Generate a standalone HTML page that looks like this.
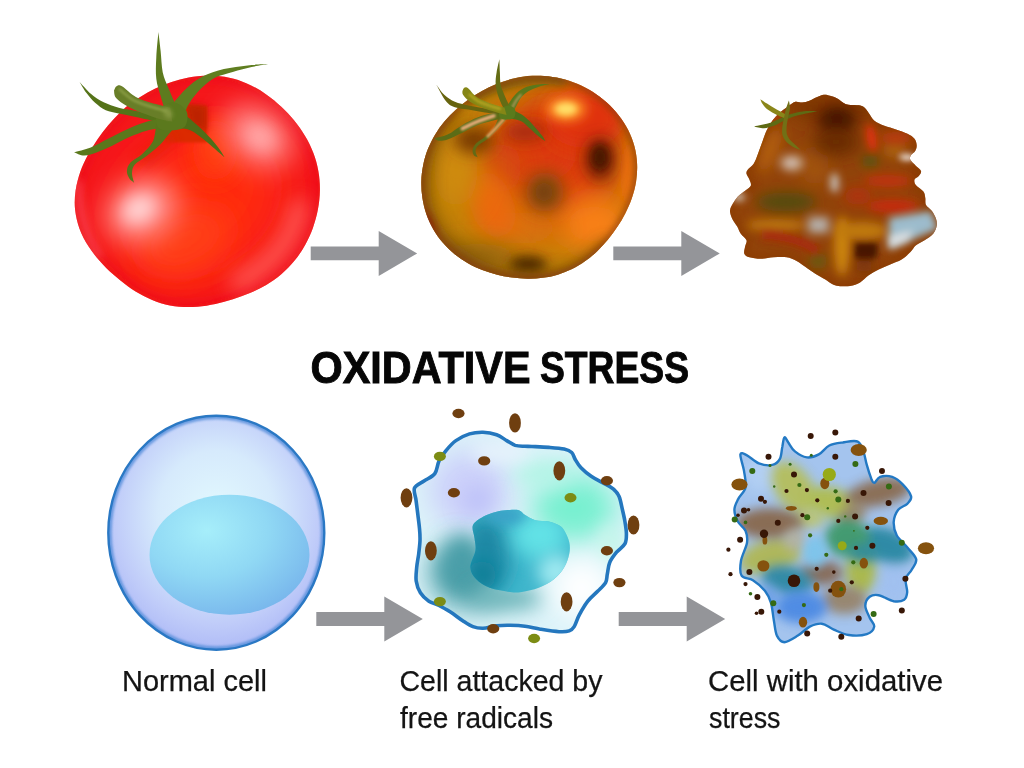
<!DOCTYPE html>
<html>
<head>
<meta charset="utf-8">
<title>Oxidative Stress</title>
<style>
html,body{margin:0;padding:0;background:#fff;}
body{width:1024px;height:768px;overflow:hidden;position:relative;font-family:"Liberation Sans",sans-serif;}
svg{position:absolute;left:0;top:0;display:block;}
text{font-family:"Liberation Sans",sans-serif;}
#labels text{fill:#141414;}
</style>
</head>
<body>
<svg width="1024" height="768" viewBox="0 0 1024 768">
<defs>
  <filter id="b1" filterUnits="userSpaceOnUse" x="0" y="0" width="1024" height="768"><feGaussianBlur stdDeviation="1"/></filter>
  <filter id="b2" filterUnits="userSpaceOnUse" x="0" y="0" width="1024" height="768"><feGaussianBlur stdDeviation="2"/></filter>
  <filter id="b3" filterUnits="userSpaceOnUse" x="0" y="0" width="1024" height="768"><feGaussianBlur stdDeviation="3"/></filter>
  <filter id="b4" filterUnits="userSpaceOnUse" x="0" y="0" width="1024" height="768"><feGaussianBlur stdDeviation="4.5"/></filter>
  <filter id="b6" filterUnits="userSpaceOnUse" x="0" y="0" width="1024" height="768"><feGaussianBlur stdDeviation="6"/></filter>
  <filter id="b8" filterUnits="userSpaceOnUse" x="0" y="0" width="1024" height="768"><feGaussianBlur stdDeviation="8"/></filter>
  <filter id="b10" filterUnits="userSpaceOnUse" x="0" y="0" width="1024" height="768"><feGaussianBlur stdDeviation="10"/></filter>
  <filter id="b14" filterUnits="userSpaceOnUse" x="0" y="0" width="1024" height="768"><feGaussianBlur stdDeviation="14"/></filter>
  <filter id="b20" filterUnits="userSpaceOnUse" x="0" y="0" width="1024" height="768"><feGaussianBlur stdDeviation="20"/></filter>
  <path id="t1path" d="M75.6,190.4 C76.5,184.1 78.3,177.8 80.3,171.8 C82.4,165.9 85.2,160.2 88.0,154.8 C90.9,149.4 94.1,144.3 97.4,139.4 C100.8,134.5 104.3,129.8 108.0,125.4 C111.8,120.9 115.7,116.7 119.8,112.7 C124.0,108.8 128.4,105.0 133.0,101.6 C137.7,98.3 142.6,95.2 147.6,92.4 C152.6,89.6 157.9,87.2 163.3,85.0 C168.7,82.9 174.3,81.0 180.0,79.5 C185.7,78.0 191.6,76.8 197.5,76.2 C203.5,75.6 209.6,75.3 215.7,75.8 C221.7,76.2 227.9,77.2 233.8,78.8 C239.7,80.4 245.5,82.7 251.1,85.4 C256.6,88.0 261.9,91.3 266.9,94.9 C272.0,98.4 276.7,102.4 281.3,106.7 C285.8,110.9 290.1,115.5 294.0,120.3 C298.0,125.1 301.7,130.3 304.9,135.7 C308.2,141.1 311.1,146.9 313.3,152.8 C315.6,158.7 317.3,165.0 318.4,171.3 C319.5,177.5 320.0,184.0 319.9,190.4 C319.8,196.8 319.1,203.2 317.9,209.5 C316.7,215.7 315.0,221.9 312.9,227.9 C310.7,233.8 308.1,239.7 305.0,245.2 C302.0,250.7 298.4,256.0 294.4,260.8 C290.5,265.6 286.0,270.2 281.3,274.2 C276.6,278.2 271.4,281.7 266.2,284.9 C260.9,288.0 255.4,290.7 249.9,293.1 C244.3,295.5 238.6,297.5 232.9,299.3 C227.2,301.1 221.4,302.7 215.5,304.0 C209.6,305.2 203.6,306.3 197.5,306.7 C191.5,307.2 185.2,307.3 179.1,306.7 C173.0,306.1 166.8,304.9 160.9,303.2 C155.0,301.4 149.2,298.9 143.7,296.1 C138.2,293.3 132.9,289.9 127.8,286.3 C122.8,282.7 118.0,278.8 113.3,274.6 C108.7,270.5 104.1,266.1 100.0,261.3 C95.8,256.5 91.7,251.5 88.3,246.1 C84.9,240.7 81.7,234.8 79.5,228.8 C77.3,222.7 75.8,216.2 75.1,209.8 C74.4,203.4 74.7,196.7 75.6,190.4 Z"/>
  <clipPath id="t1clip"><use href="#t1path"/></clipPath>
  <path id="t2path" d="M421.3,181.4 C421.4,175.9 422.1,170.3 423.2,164.9 C424.3,159.5 425.9,154.1 427.9,149.1 C429.9,144.0 432.4,139.0 435.2,134.4 C438.0,129.8 441.2,125.4 444.6,121.3 C448.1,117.1 451.9,113.3 455.8,109.7 C459.7,106.1 463.8,102.8 468.1,99.8 C472.4,96.7 476.9,93.8 481.5,91.3 C486.1,88.7 490.9,86.3 495.9,84.3 C500.8,82.2 506.0,80.4 511.3,79.1 C516.5,77.7 522.0,76.7 527.5,76.1 C532.9,75.6 538.6,75.5 544.2,75.9 C549.8,76.2 555.4,77.1 560.9,78.4 C566.4,79.7 571.9,81.6 577.2,83.8 C582.5,86.0 587.7,88.7 592.6,91.8 C597.4,94.9 602.2,98.4 606.5,102.3 C610.9,106.2 615.0,110.5 618.6,115.2 C622.3,119.8 625.6,124.8 628.2,130.1 C630.8,135.3 633.0,141.0 634.5,146.6 C636.0,152.3 636.9,158.2 637.1,164.0 C637.4,169.8 637.0,175.8 636.1,181.4 C635.2,187.1 633.7,192.7 631.9,198.0 C630.1,203.3 627.8,208.4 625.4,213.2 C622.9,218.1 620.1,222.7 617.2,227.1 C614.3,231.6 611.1,235.8 607.8,239.8 C604.5,243.8 601.0,247.6 597.2,251.2 C593.5,254.7 589.5,258.1 585.3,261.1 C581.2,264.1 576.7,266.8 572.1,269.1 C567.5,271.3 562.7,273.2 557.8,274.7 C552.9,276.2 547.8,277.2 542.7,277.8 C537.7,278.5 532.5,278.8 527.5,278.7 C522.4,278.7 517.3,278.3 512.2,277.6 C507.2,276.9 502.1,275.9 497.2,274.7 C492.2,273.4 487.2,271.9 482.3,270.0 C477.5,268.1 472.6,265.9 468.0,263.2 C463.4,260.6 458.9,257.6 454.7,254.2 C450.5,250.8 446.5,247.0 442.9,242.8 C439.4,238.7 436.1,234.1 433.4,229.4 C430.6,224.6 428.3,219.5 426.4,214.2 C424.6,209.0 423.2,203.5 422.4,198.1 C421.5,192.6 421.2,186.9 421.3,181.4 Z"/>
  <clipPath id="t2clip"><use href="#t2path"/></clipPath>
  <path id="t3path" d="M830.0,95.8 C832.2,96.4 834.6,97.2 837.2,98.6 C839.8,100.0 842.9,103.2 845.8,104.3 C848.7,105.4 851.5,104.7 854.4,105.1 C857.3,105.5 860.6,105.2 863.0,106.5 C865.4,107.8 866.8,110.5 868.7,112.9 C870.6,115.3 871.8,118.7 874.4,120.8 C877.0,122.9 880.8,124.4 884.4,125.8 C888.0,127.2 892.1,128.1 895.9,129.4 C899.7,130.7 904.3,132.1 907.4,133.7 C910.5,135.2 913.0,136.8 914.5,138.7 C916.0,140.6 916.6,143.2 916.7,145.2 C916.8,147.2 916.2,149.2 915.2,150.9 C914.2,152.6 911.7,153.8 910.9,155.2 C910.1,156.6 909.4,157.7 910.2,159.5 C911.1,161.3 914.2,164.0 916.0,165.9 C917.8,167.8 920.5,169.3 921.0,171.0 C921.5,172.7 919.9,174.6 918.8,176.0 C917.7,177.4 915.0,178.0 914.5,179.6 C914.0,181.2 914.5,183.3 916.0,185.3 C917.5,187.3 921.9,189.4 923.4,191.5 C924.9,193.6 924.9,195.6 925.3,197.9 C925.7,200.2 924.9,202.9 926.0,205.1 C927.1,207.2 930.0,208.5 931.7,210.8 C933.4,213.1 935.2,216.2 936.0,218.7 C936.8,221.2 937.2,223.3 936.7,225.8 C936.2,228.3 935.2,231.3 933.2,233.7 C931.2,236.1 927.5,238.3 924.6,240.2 C921.7,242.1 918.4,243.2 916.0,245.2 C913.6,247.2 912.6,249.9 910.2,252.3 C907.8,254.7 904.9,257.5 901.6,259.5 C898.3,261.5 894.0,262.8 890.2,264.5 C886.4,266.2 882.3,267.7 878.7,269.5 C875.1,271.3 871.8,273.2 868.7,275.3 C865.6,277.4 863.2,280.6 860.1,282.4 C857.0,284.2 853.7,285.4 850.1,286.0 C846.5,286.6 841.6,286.3 838.6,286.0 C835.6,285.7 834.2,285.1 832.0,284.0 C829.8,282.9 828.1,281.3 825.3,279.6 C822.5,277.9 818.6,276.0 815.3,273.8 C811.9,271.6 808.3,268.9 805.2,266.7 C802.1,264.5 799.7,262.5 796.6,260.9 C793.5,259.3 790.4,257.9 786.6,257.3 C782.8,256.7 778.0,257.1 773.7,257.3 C769.4,257.6 764.8,258.8 760.8,258.8 C756.8,258.8 752.1,258.1 749.4,257.3 C746.6,256.5 745.0,255.6 744.3,253.8 C743.6,252.0 744.7,248.9 745.1,246.6 C745.5,244.3 747.2,242.3 746.5,240.2 C745.8,238.0 742.3,236.0 740.8,233.7 C739.2,231.4 738.6,229.0 737.2,226.5 C735.8,224.0 733.4,221.3 732.2,218.7 C731.0,216.1 729.9,213.3 730.0,210.8 C730.1,208.3 731.6,206.0 732.9,203.6 C734.2,201.2 735.9,198.7 737.9,196.5 C739.9,194.3 743.0,192.5 745.1,190.7 C747.2,188.9 750.1,187.7 750.8,185.8 C751.5,184.0 750.1,181.6 749.4,179.6 C748.7,177.6 746.8,175.5 746.5,173.8 C746.2,172.1 746.7,171.2 747.9,169.5 C749.1,167.8 752.0,166.4 753.7,163.8 C755.4,161.2 756.6,157.4 758.0,153.8 C759.4,150.2 760.8,146.1 762.2,142.3 C763.6,138.5 764.8,134.4 766.5,130.8 C768.2,127.2 770.1,123.8 772.3,120.8 C774.4,117.8 776.8,115.3 779.4,112.9 C782.0,110.5 785.4,108.3 788.0,106.5 C790.6,104.7 792.8,102.5 795.2,101.8 C797.6,101.1 800.0,102.8 802.4,102.6 C804.8,102.4 807.1,101.7 809.5,100.8 C811.9,99.9 814.3,98.2 816.7,97.2 C819.1,96.2 821.7,94.9 823.9,94.7 C826.1,94.5 827.8,95.2 830.0,95.8 Z"/>
  <clipPath id="t3clip"><use href="#t3path"/></clipPath>
  <path id="c2path" d="M483.0,432.2 C487.5,432.3 492.7,433.3 496.6,434.7 C500.6,436.1 503.6,438.8 506.7,440.6 C509.8,442.4 512.2,444.4 515.2,445.4 C518.2,446.3 522.2,446.1 525.0,446.3 C527.8,446.5 527.9,446.3 531.9,446.5 C535.9,446.7 543.5,447.0 548.9,447.4 C554.3,447.8 560.3,448.2 564.1,449.1 C567.9,450.0 569.9,450.8 571.7,452.5 C573.5,454.2 573.6,456.7 575.1,459.2 C576.6,461.7 578.3,464.9 581.0,467.7 C583.7,470.5 587.5,473.7 591.2,476.2 C594.9,478.7 599.3,480.8 603.0,482.9 C606.7,485.0 610.5,486.6 613.2,488.9 C615.9,491.2 617.6,493.0 619.1,496.5 C620.6,500.0 621.5,505.8 622.5,510.0 C623.5,514.2 624.4,518.0 625.0,521.9 C625.6,525.8 626.4,529.9 626.4,533.5 C626.4,537.1 626.6,540.6 625.0,543.7 C623.4,546.8 619.1,549.1 616.6,552.2 C614.1,555.3 611.3,558.6 609.8,562.3 C608.2,566.0 608.0,570.8 607.3,574.2 C606.6,577.6 607.2,579.8 605.6,582.6 C604.0,585.4 600.9,588.0 597.9,591.1 C594.9,594.2 590.9,597.2 587.8,601.2 C584.7,605.2 581.6,610.6 579.3,614.8 C577.0,619.0 575.9,623.9 574.2,626.6 C572.5,629.3 571.7,630.0 569.2,630.9 C566.7,631.8 563.8,632.0 559.0,631.7 C554.2,631.4 546.1,630.1 540.4,629.2 C534.7,628.3 530.0,626.9 525.0,626.3 C520.0,625.6 514.8,625.4 510.1,625.3 C505.4,625.2 501.1,625.3 496.6,625.8 C492.1,626.3 486.9,628.2 483.0,628.3 C479.1,628.4 476.3,627.9 472.9,626.6 C469.5,625.3 466.4,623.1 462.7,620.7 C459.0,618.3 454.8,614.8 450.9,612.3 C446.9,609.8 442.7,607.4 439.0,605.5 C435.3,603.6 432.0,603.3 428.9,601.2 C425.8,599.1 422.5,596.2 420.4,592.8 C418.3,589.4 416.8,585.1 416.2,580.9 C415.6,576.7 416.3,571.9 416.7,567.4 C417.1,562.9 418.1,558.4 418.7,553.9 C419.2,549.4 419.9,544.5 420.0,540.3 C420.1,536.1 419.9,532.7 419.5,528.5 C419.1,524.3 418.5,519.8 417.9,515.0 C417.3,510.2 416.6,504.5 416.0,500.0 C415.4,495.5 413.2,491.2 414.5,488.0 C415.8,484.8 420.6,483.4 424.0,481.0 C427.4,478.6 432.3,477.0 434.8,473.6 C437.3,470.2 437.2,464.7 439.0,460.9 C440.8,457.1 443.0,454.2 445.8,450.8 C448.6,447.4 451.9,443.4 455.9,440.6 C459.8,437.8 465.0,435.3 469.5,433.9 C474.0,432.5 478.5,432.1 483.0,432.2 Z"/>
  <clipPath id="c2clip"><use href="#c2path"/></clipPath>
  <path id="c2nuc" d="M472.9,525.3 C474.3,521.8 479.1,519.1 483.0,516.8 C486.9,514.5 491.5,512.9 496.6,511.7 C501.7,510.5 509.6,509.9 513.5,509.8 C517.5,509.7 518.3,510.0 520.3,510.9 C522.2,511.8 522.7,513.5 525.2,515.1 C527.7,516.7 531.3,519.1 535.3,520.2 C539.2,521.3 544.9,520.6 548.9,521.5 C552.9,522.4 556.5,523.8 559.0,525.3 C561.5,526.8 562.4,527.4 564.1,530.2 C565.8,533.0 568.4,538.0 569.2,542.0 C570.1,546.0 570.1,549.7 569.2,553.9 C568.4,558.1 566.7,563.2 564.1,567.4 C561.5,571.6 558.1,575.8 553.9,579.2 C549.7,582.6 544.1,585.6 538.7,587.7 C533.4,589.8 526.6,591.2 521.8,591.9 C517.0,592.6 515.4,592.6 510.1,591.9 C504.8,591.2 495.4,589.8 489.8,587.7 C484.2,585.6 479.6,582.6 476.3,579.2 C473.1,575.8 470.5,572.2 470.3,567.4 C470.1,562.6 474.7,555.4 475.4,550.5 C476.1,545.6 474.9,542.2 474.5,538.0 C474.1,533.8 471.5,528.8 472.9,525.3 Z"/>
  <clipPath id="c2nclip"><use href="#c2nuc"/></clipPath>
  <path id="c3path" d="M784.4,437.4 C785.4,436.6 786.5,440.1 788.3,442.5 C790.0,444.8 791.8,449.0 794.9,451.4 C798.0,453.9 802.9,456.9 806.9,457.4 C810.8,457.9 815.1,456.4 818.8,454.4 C822.6,452.4 825.3,447.5 829.3,445.5 C833.3,443.5 838.0,443.1 842.8,442.5 C847.5,441.8 854.3,439.8 857.8,441.6 C861.3,443.3 862.3,449.1 863.8,452.9 C865.3,456.8 865.5,460.7 866.8,464.9 C868.0,469.2 870.0,475.4 871.2,478.4 C872.5,481.4 872.7,483.1 874.2,482.9 C875.7,482.6 877.2,477.9 880.2,476.9 C883.2,475.9 888.5,475.7 892.2,476.9 C896.0,478.2 899.5,481.1 902.7,484.4 C905.8,487.6 910.3,493.1 911.1,496.4 C911.8,499.6 909.3,501.6 907.2,503.9 C905.0,506.1 900.4,506.9 898.2,509.8 C896.0,512.8 894.0,517.6 893.7,521.8 C893.5,526.1 894.5,531.1 896.7,535.3 C898.9,539.5 903.9,543.3 907.2,547.3 C910.4,551.3 915.4,555.5 916.2,559.3 C916.9,563.0 913.4,566.5 911.7,569.7 C909.9,573.0 906.4,575.0 905.7,578.7 C904.9,582.5 907.4,588.7 907.2,592.2 C906.9,595.7 906.4,598.2 904.2,599.7 C901.9,601.2 897.9,601.9 893.7,601.2 C889.5,600.4 882.7,596.0 878.7,595.2 C874.7,594.5 872.0,595.0 869.7,596.7 C867.5,598.4 865.3,602.2 865.3,605.7 C865.3,609.2 868.2,614.2 869.7,617.7 C871.2,621.2 874.7,623.9 874.2,626.6 C873.7,629.4 871.0,632.7 866.8,634.1 C862.5,635.5 854.3,635.8 848.8,635.0 C843.3,634.3 838.3,631.5 833.8,629.6 C829.3,627.7 825.8,624.2 821.8,623.7 C817.8,623.2 813.8,624.7 809.8,626.6 C805.9,628.6 802.1,633.0 797.9,635.6 C793.6,638.2 787.9,642.2 784.4,642.2 C780.9,642.2 778.7,639.2 776.9,635.6 C775.2,632.0 774.9,626.1 773.9,620.7 C772.9,615.2 772.4,607.7 770.9,602.7 C769.4,597.7 767.9,594.5 764.9,590.7 C761.9,587.0 756.8,582.7 752.9,580.2 C749.1,577.7 743.6,579.0 741.6,575.7 C739.6,572.5 740.1,566.3 741.0,560.8 C741.9,555.3 746.2,547.8 747.0,542.8 C747.7,537.8 747.0,534.3 745.5,530.8 C744.0,527.3 739.8,525.3 738.0,521.8 C736.1,518.3 734.4,513.6 734.4,509.8 C734.4,506.1 736.1,503.1 738.0,499.4 C739.8,495.6 744.5,492.1 745.5,487.4 C746.5,482.6 744.8,476.4 744.0,470.9 C743.1,465.4 739.9,457.0 740.4,454.4 C740.9,451.8 743.9,453.8 747.0,455.3 C750.0,456.8 754.7,461.8 758.9,463.4 C763.2,465.0 768.9,465.7 772.4,464.9 C775.9,464.2 778.3,461.9 779.9,458.9 C781.5,455.9 781.5,450.5 782.3,447.0 C783.0,443.4 783.4,438.1 784.4,437.4 Z"/>
  <clipPath id="c3clip"><use href="#c3path"/></clipPath>
  <path id="arrow" d="M0,-6.9 H68 V-22.5 L106.5,0 L68,22.5 V6.9 H0 Z" fill="#949599"/>
  <radialGradient id="c1g" cx="0.5" cy="0.42" r="0.6">
    <stop offset="0" stop-color="#e2f9fe"/>
    <stop offset="0.45" stop-color="#d6eafc"/>
    <stop offset="0.78" stop-color="#c0ccf9"/>
    <stop offset="1" stop-color="#acb8f6"/>
  </radialGradient>
  <radialGradient id="c1n" cx="0.36" cy="0.3" r="0.85">
    <stop offset="0" stop-color="#a6eefa"/>
    <stop offset="0.45" stop-color="#90d8f4"/>
    <stop offset="1" stop-color="#72aeea"/>
  </radialGradient>
  <clipPath id="c1clip"><ellipse cx="216.3" cy="532.7" rx="108" ry="117"/></clipPath>
</defs>
<rect width="1024" height="768" fill="#fff"/>

<!-- ARROWS -->
<use href="#arrow" x="310.7" y="253.4"/>
<use href="#arrow" x="613.3" y="253.4"/>
<use href="#arrow" x="316.3" y="619"/>
<use href="#arrow" x="618.7" y="619"/>

<!-- TOMATO1 -->
<g id="tomato1">
  <g clip-path="url(#t1clip)">
    <rect x="60" y="60" width="280" height="260" fill="#f5171b"/>
    <!-- brighter orange-red core -->
    <ellipse cx="200" cy="205" rx="88" ry="66" fill="#ff2a10" filter="url(#b20)" transform="rotate(-35 200 205)"/>
    <ellipse cx="185" cy="240" rx="48" ry="32" fill="#ff3c12" filter="url(#b14)" transform="rotate(-25 185 240)"/>
    <ellipse cx="215" cy="150" rx="22" ry="30" fill="#ff3a10" filter="url(#b10)"/>
    <!-- darker edge -->
    <use href="#t1path" fill="none" stroke="#e80f1a" stroke-width="8" filter="url(#b6)" opacity="0.7"/>
    <!-- glow band bottom right (inset) -->
    <path d="M300,200 C297,235 276,264 232,286" fill="none" stroke="#ff6a66" stroke-width="18" filter="url(#b10)" opacity="0.8"/>
    <!-- rim light left -->
    <path d="M78,180 C78,208 85,236 100,258" fill="none" stroke="#ff6a74" stroke-width="6" filter="url(#b4)" opacity="0.6"/>
    <!-- highlights -->
    <ellipse cx="258" cy="136" rx="38" ry="28" fill="#ff8282" filter="url(#b14)" transform="rotate(35 258 136)"/>
    <ellipse cx="260" cy="137" rx="16" ry="12" fill="#ffaaaa" filter="url(#b8)" transform="rotate(35 260 137)" opacity="0.9"/>
    <ellipse cx="142" cy="210" rx="38" ry="30" fill="#ff908e" filter="url(#b14)" transform="rotate(-30 142 210)"/>
    <ellipse cx="139" cy="209" rx="17" ry="13" fill="#ffd2d2" filter="url(#b8)" transform="rotate(-30 139 209)"/>
    <!-- calyx shadow -->
    <path d="M178,104 L207,106 L207,142.5 L166,142.5 L158,134 Z" fill="#dc2a06" filter="url(#b1)"/>
    <path d="M186,104 L206.5,106 L206.5,130 L190,126 Z" fill="#b82006" filter="url(#b3)" opacity="0.85"/>
    <path d="M134,158 L168,130 L178,142 L150,168 Z" fill="#e0240c" filter="url(#b4)" opacity="0.45"/>
  </g>
  <g id="calyx1">
    <path d="M79.6,81.9 C81.5,83.9 86.8,90.3 90.8,93.7 C94.8,97.1 99.0,100.0 103.7,102.3 C108.3,104.6 113.3,106.3 118.7,107.7 C124.1,109.1 129.4,109.5 135.9,110.9 C142.3,112.3 153.8,115.4 157.4,116.3 L157.4,121.7 C153.8,120.9 142.3,118.3 135.9,116.9 C129.4,115.6 123.7,114.6 118.7,113.5 C113.7,112.4 109.7,112.1 105.8,110.3 C101.9,108.5 98.3,105.6 95.1,102.8 C91.8,99.9 89.1,96.6 86.5,93.1 C83.9,89.6 80.8,83.8 79.6,81.9 Z" fill="#557319"/>
    <path d="M74.0,152.2 C76.8,151.4 85.1,149.6 90.8,147.4 C96.4,145.2 101.9,141.9 108.0,138.8 C114.0,135.8 120.8,132.0 127.3,129.2 C133.7,126.3 140.5,123.6 146.6,121.7 C152.7,119.7 160.9,118.1 163.8,117.4 L165.9,127.0 C162.7,127.6 152.7,129.0 146.6,130.7 C140.5,132.4 135.2,134.6 129.4,137.1 C123.7,139.6 117.6,143.2 112.3,145.7 C106.9,148.2 101.9,150.5 97.2,152.2 C92.6,153.8 88.2,155.6 84.3,155.6 C80.5,155.6 75.7,152.7 74.0,152.2 Z" fill="#5a781c"/>
    <path d="M178.8,109.8 C182.1,112.5 192.8,121.1 198.2,125.9 C203.5,130.8 207.5,134.9 211.1,138.8 C214.6,142.8 217.4,146.5 219.6,149.6 C221.9,152.6 223.6,155.8 224.4,157.1 L224.4,157.1 C222.5,155.5 217.2,150.8 213.2,147.4 C209.2,144.0 204.6,139.7 200.3,136.7 C196.0,133.6 192.4,130.6 187.4,129.2 C182.4,127.7 173.1,128.3 170.2,128.1 Z" fill="#4f6e18"/>
    <path d="M170.2,106.6 C172.8,103.8 179.9,94.4 185.3,89.4 C190.6,84.4 196.0,79.9 202.5,76.5 C208.9,73.1 216.4,70.9 223.9,69.0 C231.5,67.2 240.2,66.2 247.6,65.4 C254.9,64.6 264.6,64.3 268.0,64.1 L268.0,64.1 C264.6,64.7 254.2,66.4 247.6,68.0 C240.9,69.5 234.0,71.5 228.2,73.3 C222.5,75.1 218.2,75.7 213.2,78.7 C208.2,81.7 202.5,86.9 198.2,91.6 C193.9,96.2 189.8,102.3 187.4,106.6 C185.1,110.9 184.7,115.6 184.2,117.4 Z" fill="#5f7e20"/>
    <path d="M164.9,109.8 C164.2,107.5 162.0,101.1 160.6,95.9 C159.1,90.7 157.0,85.1 156.3,78.7 C155.6,72.3 155.9,65.0 156.3,57.2 C156.6,49.4 158.1,36.1 158.4,31.9 L158.4,31.9 C158.8,35.0 159.9,44.0 160.6,50.8 C161.3,57.5 161.5,66.2 162.7,72.3 C164.0,78.3 166.1,82.3 168.1,87.3 C170.1,92.3 173.5,99.8 174.5,102.3 Z" fill="#5d7b1e"/>
    <path d="M156.3,123.8 C155.7,126.7 155.4,136.0 153.1,141.0 C150.7,146.0 146.1,150.3 142.3,153.9 C138.6,157.5 133.1,159.6 130.5,162.5 C127.9,165.3 127.0,168.4 126.9,171.1 C126.7,173.7 128.2,176.6 129.4,178.6 C130.7,180.5 133.4,182.2 134.2,182.9 L134.2,182.9 C133.8,181.3 131.9,176.2 132.0,173.2 C132.1,170.2 132.4,167.5 134.8,164.6 C137.2,161.7 142.5,159.2 146.6,156.0 C150.7,152.8 155.6,149.2 159.5,145.3 C163.4,141.3 167.0,136.0 170.2,132.4 C173.5,128.8 177.4,125.2 178.8,123.8 Z" fill="#58761b"/>
    <path d="M157.4,112.0 C159.7,107.8 167.6,102.5 172.4,102.3 C177.2,102.1 184.2,107.0 186.4,110.9 C188.5,114.9 187.6,122.7 185.3,125.9 C183.0,129.2 176.9,130.0 172.4,130.2 C167.9,130.5 160.9,130.7 158.4,127.7 C155.9,124.6 155.0,116.2 157.4,112.0 Z" fill="#5b791d"/>
    <path d="M114.0,90.5 C114.4,89.8 115.2,86.9 116.5,86.2 C117.9,85.5 118.7,84.4 121.9,86.2 C125.1,88.0 131.0,94.2 135.9,97.0 C140.7,99.7 145.2,101.0 150.9,102.8 C156.6,104.5 167.0,106.9 170.2,107.7 L172.4,121.7 C170.2,121.2 164.5,120.5 159.5,119.1 C154.5,117.6 147.7,115.2 142.3,113.1 C137.0,110.9 131.7,108.7 127.3,106.2 C122.9,103.7 118.3,100.6 116.1,98.0 C113.9,95.4 114.3,91.8 114.0,90.5 Z" fill="#687e28"/>
    <path d="M119.8,89.4 C122.1,91.2 128.5,97.3 133.7,100.2 C138.9,103.0 145.5,104.8 150.9,106.6 C156.3,108.4 163.4,110.2 165.9,110.9" fill="none" stroke="#93a54c" stroke-width="3" stroke-linecap="round" opacity="0.7" filter="url(#b1)"/>
    <ellipse cx="168" cy="113" rx="4" ry="6" fill="#8c9e46" filter="url(#b2)" transform="rotate(-30 168 113)" opacity="0.8"/>
  </g>
</g>

<!-- TOMATO2 -->
<g id="tomato2">
  <g clip-path="url(#t2clip)">
    <rect x="400" y="60" width="260" height="240" fill="#c08008"/>
    <!-- orange-red centre/right -->
    <ellipse cx="562" cy="156" rx="62" ry="66" fill="#de3e08" filter="url(#b20)"/>
    <ellipse cx="536" cy="150" rx="42" ry="34" fill="#dc3a08" filter="url(#b14)"/>
    <ellipse cx="585" cy="118" rx="40" ry="30" fill="#e0300a" filter="url(#b10)"/>
    <ellipse cx="500" cy="168" rx="22" ry="26" fill="#d44c08" filter="url(#b14)"/>
    <!-- orange lower right -->
    <ellipse cx="594" cy="224" rx="36" ry="28" fill="#fa8014" filter="url(#b14)"/>
    <ellipse cx="520" cy="228" rx="40" ry="16" fill="#e06e0a" filter="url(#b14)"/>
    <ellipse cx="628" cy="175" rx="7" ry="34" fill="#f07010" filter="url(#b6)"/>
    <ellipse cx="492" cy="205" rx="22" ry="34" fill="#ec6808" filter="url(#b10)" transform="rotate(-20 492 205)"/>
    <!-- golden left -->
    <ellipse cx="456" cy="168" rx="22" ry="40" fill="#d08c0a" filter="url(#b14)"/>
    <ellipse cx="478" cy="256" rx="40" ry="12" fill="#94660c" filter="url(#b10)"/>
    <!-- top edge olive -->
    <path d="M466,102 C498,82 530,75 566,81" fill="none" stroke="#7c5a0a" stroke-width="10" filter="url(#b4)"/>
    <!-- dark spots -->
    <ellipse cx="600" cy="159" rx="14" ry="21" fill="#601a04" filter="url(#b8)"/>
    <ellipse cx="600" cy="157" rx="8" ry="12" fill="#481203" filter="url(#b4)"/>
    <ellipse cx="545" cy="192" rx="19" ry="20" fill="#8a4e0a" filter="url(#b8)"/>
    <ellipse cx="544" cy="192" rx="9" ry="10" fill="#764008" filter="url(#b6)"/>
    <ellipse cx="528" cy="265" rx="19" ry="9" fill="#482606" filter="url(#b6)"/>
    <ellipse cx="474" cy="140" rx="20" ry="13" fill="#763806" filter="url(#b8)"/>
    <ellipse cx="525" cy="132" rx="22" ry="9" fill="#a02a08" filter="url(#b8)"/>
    <!-- dark edges -->
    <path d="M450,104 C422,135 412,180 424,216 C438,257 490,288 545,284 C575,281 600,264 615,247" fill="none" stroke="#7a5008" stroke-width="24" filter="url(#b8)" opacity="0.85"/>
    <use href="#t2path" fill="none" stroke="#86380a" stroke-width="6" filter="url(#b3)" opacity="0.7"/>
    <ellipse cx="427" cy="224" rx="5" ry="12" fill="#8a1c08" filter="url(#b4)" transform="rotate(-25 427 224)"/>
    <!-- highlight -->
    <ellipse cx="566" cy="109" rx="20" ry="12" fill="#ff9428" filter="url(#b6)"/>
    <ellipse cx="566" cy="109" rx="11" ry="6.5" fill="#ffe068" filter="url(#b3)"/>
  </g>
  <g id="calyx2">
    <path d="M436.2,84.4 C437.6,86.2 441.3,92.0 444.5,94.9 C447.6,97.8 451.0,99.9 454.9,101.7 C458.9,103.4 463.4,104.3 468.4,105.4 C473.4,106.5 479.4,107.4 484.9,108.4 C490.4,109.4 498.6,110.9 501.4,111.4 L501.4,115.1 C498.6,114.7 490.4,113.5 484.9,112.6 C479.4,111.7 473.4,110.5 468.4,109.6 C463.4,108.7 458.7,108.6 454.9,107.2 C451.2,105.8 449.1,105.0 446.0,101.2 C442.8,97.4 437.9,87.2 436.2,84.4 Z" fill="#67640f"/>
    <path d="M434.3,138.3 C436.5,137.7 442.8,136.8 447.5,134.6 C452.2,132.4 457.4,127.7 462.4,124.9 C467.4,122.0 472.4,119.3 477.4,117.4 C482.4,115.5 487.6,114.3 492.4,113.6 C497.1,113.0 503.6,113.6 505.9,113.6 L506.6,118.1 C504.2,118.6 497.2,119.5 492.4,120.7 C487.5,121.8 482.4,123.2 477.4,125.2 C472.4,127.2 467.4,130.3 462.4,132.7 C457.4,135.0 451.5,138.0 447.5,139.4 C443.5,140.7 440.7,140.9 438.5,140.7 C436.3,140.6 435.0,138.7 434.3,138.3 Z" fill="#5c6c16"/>
    <path d="M462.4,128.6 C464.9,127.4 472.2,123.7 477.4,121.6 C482.6,119.5 491.1,116.8 493.9,115.9" fill="none" stroke="#e6ac7c" stroke-width="3.6" stroke-linecap="round" filter="url(#b1)"/>
    <path d="M510.3,109.1 C512.6,110.3 519.8,113.0 523.8,115.9 C527.8,118.8 531.3,123.1 534.3,126.4 C537.3,129.6 539.9,132.9 541.8,135.3 C543.7,137.8 544.9,140.3 545.5,141.3 L545.5,141.3 C544.4,140.5 541.4,138.7 538.8,136.5 C536.2,134.4 532.8,131.1 529.8,128.5 C526.8,125.9 524.6,122.7 520.8,121.0 C517.1,119.3 509.6,118.6 507.4,118.1 Z" fill="#4f7019"/>
    <path d="M507.4,105.4 C508.8,103.4 513.1,96.5 516.3,93.4 C519.6,90.3 523.1,88.2 526.8,86.7 C530.6,85.2 535.1,84.9 538.8,84.4 C542.5,84.0 547.5,84.2 549.3,84.1 L549.3,84.1 C547.5,84.6 542.3,85.5 538.8,86.7 C535.3,87.9 531.3,89.3 528.3,91.2 C525.3,93.0 523.1,94.9 520.8,97.9 C518.6,100.9 515.8,107.3 514.8,109.1 Z" fill="#5a781c"/>
    <path d="M512.6,106.9 C513.2,105.8 515.0,102.2 516.3,100.2 C517.7,98.2 520.1,95.8 520.8,94.9" fill="none" stroke="#c8a070" stroke-width="2" stroke-linecap="round" filter="url(#b1)" opacity="0.8"/>
    <path d="M503.6,108.4 C502.7,106.4 499.7,100.4 498.4,96.4 C497.0,92.4 496.0,88.4 495.7,84.4 C495.4,80.4 495.9,76.7 496.6,72.5 C497.2,68.3 498.9,61.5 499.4,59.3 L499.4,59.3 C499.5,61.5 499.7,68.3 499.9,72.5 C500.1,76.7 499.9,80.7 500.6,84.4 C501.4,88.2 502.9,91.3 504.4,94.9 C505.9,98.5 508.7,104.3 509.6,106.1 Z" fill="#646c14"/>
    <path d="M499.1,116.6 C498.2,118.5 496.2,124.5 493.9,127.9 C491.5,131.2 487.9,134.2 484.9,136.8 C481.9,139.5 478.0,141.3 475.9,143.6 C473.9,145.8 472.9,148.3 472.6,150.3 C472.3,152.3 473.3,154.4 474.1,155.6 C475.0,156.7 477.1,156.9 477.7,157.2 L477.7,157.2 C477.4,156.3 475.6,153.7 475.6,151.8 C475.6,150.0 475.7,148.3 477.7,146.1 C479.8,143.9 484.4,141.6 487.9,138.6 C491.3,135.6 495.1,131.6 498.4,128.2 C501.6,124.7 505.9,119.8 507.4,118.1 Z" fill="#626a16"/>
    <path d="M487.9,136.1 C489.3,134.7 493.5,130.6 496.1,127.9 C498.7,125.1 502.4,121.0 503.6,119.6" fill="none" stroke="#e8a062" stroke-width="3" stroke-linecap="round" filter="url(#b1)"/>
    <path d="M499.9,110.6 C501.1,108.6 504.9,105.7 507.4,105.4 C509.8,105.2 513.7,107.1 514.8,109.1 C516.0,111.1 515.5,115.6 514.1,117.4 C512.7,119.1 509.0,119.6 506.6,119.6 C504.2,119.6 501.0,118.9 499.9,117.4 C498.7,115.9 498.6,112.6 499.9,110.6 Z" fill="#5a7a1c"/>
    <path d="M462.4,91.2 C462.7,90.6 463.3,88.2 464.2,87.7 C465.2,87.2 466.2,86.7 468.1,88.2 C470.1,89.6 472.6,94.0 475.9,96.4 C479.2,98.8 483.1,100.5 487.9,102.4 C492.6,104.3 501.6,106.8 504.4,107.6 L506.6,115.1 C504.7,114.6 499.5,113.4 495.4,112.1 C491.3,110.9 486.1,109.4 481.9,107.6 C477.7,105.9 473.0,103.8 469.9,101.7 C466.8,99.5 464.4,96.7 463.2,94.9 C461.9,93.2 462.6,91.8 462.4,91.2 Z" fill="#858616"/>
    <path d="M469.9,94.9 C471.4,96.0 475.4,99.8 478.9,101.7 C482.4,103.5 487.4,105.0 490.9,106.1 C494.4,107.3 498.4,108.3 499.9,108.7" fill="none" stroke="#b4a420" stroke-width="3" stroke-linecap="round" filter="url(#b1)" opacity="0.9"/>
  </g>
</g>

<!-- TOMATO3 -->
<g id="tomato3">
  <g clip-path="url(#t3clip)">
    <rect x="720" y="85" width="230" height="210" fill="#92440a"/>
    <!-- darker edge -->
    <use href="#t3path" fill="none" stroke="#8a3a06" stroke-width="9" filter="url(#b4)" opacity="0.7"/>
    <g filter="url(#b2)">
    <!-- top dark region -->
    <ellipse cx="832" cy="110" rx="42" ry="14" fill="#7c3406" filter="url(#b8)"/>
    <!-- golden areas -->
    <ellipse cx="842" cy="246" rx="8" ry="30" fill="#cc860c" filter="url(#b4)"/>
    <ellipse cx="862" cy="231" rx="26" ry="9" fill="#c07a0a" filter="url(#b4)"/>
    <ellipse cx="776" cy="225" rx="30" ry="6" fill="#be780a" filter="url(#b4)"/>
    <ellipse cx="770" cy="150" rx="8" ry="24" fill="#b4600a" filter="url(#b6)" transform="rotate(22 770 150)"/>
    <ellipse cx="815" cy="165" rx="14" ry="20" fill="#a2540a" filter="url(#b8)"/>
    <ellipse cx="895" cy="150" rx="12" ry="8" fill="#a8600a" filter="url(#b4)"/>
    <!-- olive areas -->
    <ellipse cx="786" cy="202" rx="30" ry="10" fill="#544c08" filter="url(#b6)"/>
    <ellipse cx="870" cy="161" rx="9" ry="6" fill="#56560e" filter="url(#b4)"/>
    <ellipse cx="818" cy="261" rx="9" ry="8" fill="#6a5a10" filter="url(#b4)"/>
    <!-- dark brown areas -->
    <ellipse cx="837" cy="121" rx="18" ry="14" fill="#461805" filter="url(#b6)"/>
    <ellipse cx="836" cy="142" rx="24" ry="14" fill="#682a06" filter="url(#b8)"/>
    <path d="M854.5,242.5 H877.5 V256 C872,262 860,262 854.5,258 Z" fill="#461604" filter="url(#b2)"/>
    <ellipse cx="864" cy="266" rx="10" ry="6" fill="#7a3608" filter="url(#b4)"/>
    <!-- red areas -->
    <ellipse cx="871.5" cy="138" rx="4.5" ry="14" fill="#e6300a" filter="url(#b3)" transform="rotate(-10 871.5 138)"/>
    <ellipse cx="896" cy="138" rx="16" ry="6" fill="#bc3a0a" filter="url(#b4)"/>
    <ellipse cx="772" cy="112" rx="7" ry="8" fill="#c8440a" filter="url(#b4)"/>
    <ellipse cx="888" cy="181" rx="24" ry="6" fill="#c2300a" filter="url(#b4)"/>
    <ellipse cx="893" cy="206" rx="26" ry="7" fill="#c62a08" filter="url(#b4)"/>
    <ellipse cx="858" cy="196" rx="14" ry="9" fill="#b03008" filter="url(#b6)"/>
    <path d="M762,235 C775,235 790,238 805,244 C810,246 814,249 818,252" fill="none" stroke="#ac2808" stroke-width="8" filter="url(#b3)"/>
    <!-- white / bluish patches -->
    <ellipse cx="791.5" cy="163" rx="11" ry="7.5" fill="#e0dcda" filter="url(#b4)" opacity="0.8"/>
    <ellipse cx="834.6" cy="183" rx="4.5" ry="10" fill="#d0d8de" filter="url(#b3)" opacity="0.8"/>
    <path d="M808,217 H829 V233 H808 Z" fill="#bcc4ca" filter="url(#b4)" opacity="0.85"/>
    <path d="M889,218 L931,211 L938,229 L889,249 Z" fill="#9cbccc" filter="url(#b3)"/>
    <path d="M889,236 L913,230 L908,241 L889,249 Z" fill="#e2e2e2" filter="url(#b3)" opacity="0.9"/>
    <ellipse cx="907.5" cy="157.4" rx="8" ry="3" fill="#f2eeee" filter="url(#b2)"/>
    <ellipse cx="739" cy="197" rx="6" ry="4" fill="#d8d2cc" filter="url(#b3)"/>
    </g>
  </g>
  <!-- calyx -->
  <g id="calyx3">
    <path d="M754.2,126.4 C755.5,126.1 759.0,125.5 762.0,124.8 C765.0,124.1 768.7,123.4 772.0,122.2 C775.3,121.0 778.7,119.0 782.0,117.6 C785.3,116.2 788.3,114.9 792.0,113.8 C795.7,112.7 799.7,111.6 804.0,111.2 C808.3,110.8 815.3,111.2 817.6,111.2 L817.6,111.2 C815.3,111.7 808.1,113.0 804.0,113.9 C799.9,114.8 796.3,115.7 793.0,116.8 C789.7,117.9 787.2,119.3 784.0,120.8 C780.8,122.3 777.3,124.6 774.0,125.8 C770.7,127.0 767.3,128.1 764.0,128.2 C760.7,128.3 755.8,126.7 754.2,126.4 Z" fill="#5e6a14"/>
    <path d="M760.3,99.2 C761.4,99.9 764.5,102.0 767.0,103.6 C769.5,105.2 772.0,106.9 775.0,108.6 C778.0,110.3 783.3,113.1 785.0,114.0 L786.5,118.8 C784.9,118.2 780.1,116.5 777.0,115.0 C773.9,113.5 770.4,111.6 768.0,109.8 C765.6,108.0 763.9,105.8 762.6,104.0 C761.3,102.2 760.7,100.0 760.3,99.2 Z" fill="#8a861a"/>
    <path d="M788.9,100.4 C788.5,101.7 787.0,105.2 786.2,108.0 C785.4,110.8 784.9,113.7 784.2,117.0 C783.5,120.3 782.4,124.8 782.2,128.0 C782.0,131.2 781.9,133.5 782.8,136.0 C783.6,138.5 785.4,140.9 787.3,142.8 C789.2,144.7 791.8,146.2 794.0,147.4 C796.2,148.6 799.2,149.4 800.3,149.8 L800.3,149.8 C799.4,149.0 796.9,146.4 795.2,144.8 C793.6,143.2 791.8,141.9 790.4,140.2 C789.0,138.5 787.6,136.7 787.0,134.5 C786.4,132.3 786.4,129.9 786.6,127.0 C786.8,124.1 787.6,120.2 788.2,117.0 C788.8,113.8 789.9,110.8 790.0,108.0 C790.1,105.2 789.1,101.7 788.9,100.4 Z" fill="#727016"/>
  </g>
</g>

<!-- TITLE -->
<g id="title" font-size="44" font-weight="700" fill="#060606" stroke="#060606" stroke-width="0.9">
  <text x="310.5" y="382.8" textLength="220" lengthAdjust="spacingAndGlyphs">OXIDATIVE</text>
  <text x="540" y="382.8" textLength="149" lengthAdjust="spacingAndGlyphs">STRESS</text>
</g>

<!-- CELL1 -->
<g id="cell1">
  <ellipse cx="216.3" cy="532.7" rx="108" ry="117" fill="url(#c1g)"/>
  <g clip-path="url(#c1clip)">
    <ellipse cx="216.3" cy="532.7" rx="106.5" ry="115.5" fill="none" stroke="#5c92dc" stroke-width="4" filter="url(#b1)" opacity="0.85"/>
  </g>
  <ellipse cx="216.3" cy="532.7" rx="108" ry="117" fill="none" stroke="#2a78c4" stroke-width="2.4"/>
  <ellipse cx="229.5" cy="554.7" rx="80" ry="60" fill="url(#c1n)"/>
</g>

<!-- CELL2 -->
<g id="cell2">
  <g clip-path="url(#c2clip)">
    <rect x="400" y="420" width="240" height="225" fill="#dcf3f9"/>
    <ellipse cx="470" cy="490" rx="40" ry="40" fill="#ccd0fa" filter="url(#b14)"/>
    <ellipse cx="478" cy="500" rx="14" ry="14" fill="#bcc0f8" filter="url(#b10)"/>
    <ellipse cx="574" cy="508" rx="42" ry="34" fill="#78f0d0" filter="url(#b14)"/>
    <ellipse cx="545" cy="474" rx="32" ry="14" fill="#b4f4e6" filter="url(#b10)"/>
    <ellipse cx="610" cy="545" rx="12" ry="20" fill="#c4f6ea" filter="url(#b8)"/>
    <ellipse cx="466" cy="578" rx="38" ry="30" fill="#4a9ea6" filter="url(#b14)" transform="rotate(25 466 578)"/>
    <ellipse cx="462" cy="562" rx="20" ry="28" fill="#4a9ea8" filter="url(#b10)"/>
    <ellipse cx="508" cy="598" rx="36" ry="12" fill="#6ab4b8" filter="url(#b10)"/>
    <ellipse cx="582" cy="588" rx="30" ry="30" fill="#ffffff" filter="url(#b14)"/>
    <ellipse cx="500" cy="452" rx="30" ry="10" fill="#e6f2fc" filter="url(#b8)"/>
  </g>
  <g clip-path="url(#c2nclip)">
    <rect x="465" y="505" width="110" height="92" fill="#3fb6cc"/>
    <ellipse cx="486" cy="556" rx="24" ry="40" fill="#1a88a4" filter="url(#b10)"/>
    <ellipse cx="482" cy="575" rx="14" ry="14" fill="#108098" filter="url(#b8)"/>
    <ellipse cx="540" cy="535" rx="28" ry="24" fill="#62e2e6" filter="url(#b10)"/>
    <ellipse cx="556" cy="572" rx="18" ry="18" fill="#9ce8f0" filter="url(#b8)"/>
    <ellipse cx="505" cy="516" rx="20" ry="8" fill="#3aa2c8" filter="url(#b6)"/>
  </g>
  <use href="#c2path" fill="none" stroke="#2477be" stroke-width="3.6" stroke-linejoin="round"/>
  <ellipse cx="515.0" cy="422.9" rx="5.9" ry="9.6" fill="#6f3f10"/>
  <ellipse cx="559.3" cy="470.8" rx="5.9" ry="9.6" fill="#6f3f10"/>
  <ellipse cx="633.5" cy="525.0" rx="5.9" ry="9.6" fill="#6f3f10"/>
  <ellipse cx="566.6" cy="601.8" rx="5.9" ry="9.6" fill="#6f3f10"/>
  <ellipse cx="430.9" cy="550.8" rx="5.9" ry="9.6" fill="#6f3f10"/>
  <ellipse cx="406.5" cy="497.8" rx="5.9" ry="9.6" fill="#6f3f10"/>
  <ellipse cx="606.9" cy="480.7" rx="6.1" ry="4.7" fill="#6f3f10"/>
  <ellipse cx="606.9" cy="550.8" rx="6.1" ry="4.7" fill="#6f3f10"/>
  <ellipse cx="619.4" cy="582.6" rx="6.1" ry="4.7" fill="#6f3f10"/>
  <ellipse cx="493.2" cy="628.7" rx="6.1" ry="4.7" fill="#6f3f10"/>
  <ellipse cx="458.5" cy="413.5" rx="6.1" ry="4.7" fill="#6f3f10"/>
  <ellipse cx="484.2" cy="460.9" rx="6.1" ry="4.7" fill="#6f3f10"/>
  <ellipse cx="453.9" cy="492.8" rx="6.1" ry="4.7" fill="#6f3f10"/>
  <ellipse cx="570.5" cy="497.8" rx="6" ry="4.7" fill="#7c8c14"/>
  <ellipse cx="534.1" cy="638.5" rx="6" ry="4.7" fill="#7c8c14"/>
  <ellipse cx="439.9" cy="601.6" rx="6" ry="4.7" fill="#7c8c14"/>
  <ellipse cx="439.9" cy="456.4" rx="6" ry="4.7" fill="#7c8c14"/>
</g>

<!-- CELL3 -->
<g id="cell3">
  <g clip-path="url(#c3clip)">
    <rect x="725" y="430" width="200" height="220" fill="#a4c4ee"/>
    <g filter="url(#b3)" opacity="0.9">
    <ellipse cx="761.9" cy="473.9" rx="18.0" ry="18.0" fill="#b4d0f4" filter="url(#b6)"/>
    <ellipse cx="893.7" cy="581.7" rx="15.0" ry="21.0" fill="#a0c0f0" filter="url(#b6)"/>
    <ellipse cx="793.4" cy="487.4" rx="18.3" ry="29.2" fill="#b6be52" filter="url(#b4)" transform="rotate(-35 793.4 487.4)"/>
    <ellipse cx="830.8" cy="502.4" rx="26.3" ry="15.3" fill="#b0bc44" filter="url(#b4)" transform="rotate(15 830.8 502.4)"/>
    <ellipse cx="770.9" cy="556.3" rx="32.2" ry="16.8" fill="#b0b64c" filter="url(#b4)" transform="rotate(-15 770.9 556.3)"/>
    <ellipse cx="860.8" cy="571.2" rx="15.3" ry="22.7" fill="#acb83c" filter="url(#b4)"/>
    <ellipse cx="809.8" cy="518.8" rx="14.6" ry="9.1" fill="#bcc468" filter="url(#b4)"/>
    <ellipse cx="769.4" cy="523.3" rx="33.6" ry="15.3" fill="#866242" filter="url(#b4)"/>
    <ellipse cx="878.7" cy="492.5" rx="33.6" ry="13.2" fill="#886646" filter="url(#b4)" transform="rotate(-12 878.7 492.5)"/>
    <ellipse cx="851.8" cy="515.8" rx="16.4" ry="9.5" fill="#947a5a" filter="url(#b4)" transform="rotate(-35 851.8 515.8)"/>
    <ellipse cx="821.8" cy="572.7" rx="21.2" ry="12.4" fill="#84644c" filter="url(#b4)"/>
    <ellipse cx="844.3" cy="599.7" rx="22.7" ry="14.6" fill="#968064" filter="url(#b4)"/>
    <ellipse cx="794.9" cy="539.8" rx="11.0" ry="11.0" fill="#b4b09c" filter="url(#b4)"/>
    <ellipse cx="886.2" cy="545.2" rx="28.5" ry="16.8" fill="#24849e" filter="url(#b4)" transform="rotate(20 886.2 545.2)"/>
    <ellipse cx="787.4" cy="580.2" rx="26.3" ry="14.6" fill="#26849e" filter="url(#b4)" transform="rotate(12 787.4 580.2)"/>
    <ellipse cx="847.3" cy="538.3" rx="22.7" ry="19.0" fill="#389662" filter="url(#b4)"/>
    <ellipse cx="863.8" cy="553.3" rx="15.3" ry="9.5" fill="#28868e" filter="url(#b4)"/>
    <ellipse cx="800.9" cy="607.2" rx="26.3" ry="16.1" fill="#4686e2" filter="url(#b4)"/>
    <ellipse cx="767.9" cy="599.7" rx="11.0" ry="14.6" fill="#6a9ee6" filter="url(#b4)"/>
    <ellipse cx="815.2" cy="551.8" rx="12.0" ry="15.6" fill="#7ac4ea" filter="url(#b3)"/>
    </g>
  </g>
  <use href="#c3path" fill="none" stroke="#2379c4" stroke-width="2.4" stroke-linejoin="round"/>
  <ellipse cx="858.7" cy="449.9" rx="8.1" ry="6.0" fill="#85520e"/>
  <ellipse cx="739.5" cy="484.4" rx="8.1" ry="6.0" fill="#85520e"/>
  <ellipse cx="926.0" cy="548.2" rx="8.1" ry="6.0" fill="#85520e"/>
  <ellipse cx="880.8" cy="520.9" rx="7.2" ry="4.2" fill="#85520e"/>
  <ellipse cx="824.8" cy="483.5" rx="4.5" ry="5.7" fill="#85520e"/>
  <ellipse cx="791.3" cy="508.3" rx="5.4" ry="2.4" fill="#85520e"/>
  <ellipse cx="763.4" cy="565.9" rx="6.0" ry="5.7" fill="#85520e"/>
  <ellipse cx="863.8" cy="563.2" rx="4.2" ry="5.4" fill="#85520e"/>
  <ellipse cx="838.3" cy="589.2" rx="7.8" ry="8.4" fill="#85520e"/>
  <ellipse cx="816.4" cy="587.1" rx="3.0" ry="4.8" fill="#85520e"/>
  <ellipse cx="803.0" cy="622.2" rx="4.2" ry="5.4" fill="#85520e"/>
  <ellipse cx="764.9" cy="540.4" rx="2.4" ry="4.2" fill="#85520e"/>
  <circle cx="829.3" cy="474.5" r="6.6" fill="#97aa18"/>
  <circle cx="842.2" cy="545.8" r="4.5" fill="#97aa18"/>
  <circle cx="752.3" cy="470.9" r="3.0" fill="#356a14"/>
  <circle cx="790.1" cy="464.3" r="1.5" fill="#356a14"/>
  <circle cx="770.0" cy="465.5" r="1.5" fill="#356a14"/>
  <circle cx="811.3" cy="455.3" r="1.5" fill="#356a14"/>
  <circle cx="855.4" cy="464.0" r="3.0" fill="#356a14"/>
  <circle cx="799.4" cy="485.0" r="2.1" fill="#356a14"/>
  <circle cx="774.2" cy="486.5" r="1.2" fill="#356a14"/>
  <circle cx="888.9" cy="486.5" r="3.0" fill="#356a14"/>
  <circle cx="835.6" cy="491.3" r="2.1" fill="#356a14"/>
  <circle cx="838.3" cy="499.4" r="3.0" fill="#356a14"/>
  <circle cx="827.8" cy="508.3" r="1.2" fill="#356a14"/>
  <circle cx="734.7" cy="519.4" r="3.0" fill="#356a14"/>
  <circle cx="745.5" cy="522.4" r="1.8" fill="#356a14"/>
  <circle cx="807.2" cy="517.3" r="3.0" fill="#356a14"/>
  <circle cx="845.2" cy="516.4" r="1.2" fill="#356a14"/>
  <circle cx="853.9" cy="530.8" r="0.9" fill="#356a14"/>
  <circle cx="810.1" cy="535.3" r="2.1" fill="#356a14"/>
  <circle cx="901.8" cy="542.8" r="3.0" fill="#356a14"/>
  <circle cx="826.3" cy="554.8" r="2.1" fill="#356a14"/>
  <circle cx="853.3" cy="562.3" r="2.1" fill="#356a14"/>
  <circle cx="841.3" cy="589.2" r="2.1" fill="#356a14"/>
  <circle cx="750.5" cy="593.7" r="1.8" fill="#356a14"/>
  <circle cx="773.3" cy="603.3" r="3.0" fill="#356a14"/>
  <circle cx="803.9" cy="605.1" r="2.1" fill="#356a14"/>
  <circle cx="873.6" cy="614.1" r="3.0" fill="#356a14"/>
  <circle cx="810.7" cy="435.9" r="3.0" fill="#381707"/>
  <circle cx="835.3" cy="432.6" r="3.0" fill="#381707"/>
  <circle cx="768.5" cy="456.8" r="3.0" fill="#381707"/>
  <circle cx="835.3" cy="456.8" r="3.0" fill="#381707"/>
  <circle cx="882.0" cy="470.9" r="3.0" fill="#381707"/>
  <circle cx="794.0" cy="474.5" r="3.0" fill="#381707"/>
  <circle cx="786.5" cy="491.0" r="2.1" fill="#381707"/>
  <circle cx="806.9" cy="490.1" r="2.1" fill="#381707"/>
  <circle cx="863.5" cy="493.1" r="3.0" fill="#381707"/>
  <circle cx="817.3" cy="500.3" r="2.1" fill="#381707"/>
  <circle cx="847.9" cy="500.9" r="2.1" fill="#381707"/>
  <circle cx="888.6" cy="503.0" r="3.0" fill="#381707"/>
  <circle cx="761.0" cy="498.8" r="3.0" fill="#381707"/>
  <circle cx="764.9" cy="501.8" r="2.1" fill="#381707"/>
  <circle cx="744.0" cy="510.4" r="3.0" fill="#381707"/>
  <circle cx="748.5" cy="509.8" r="1.8" fill="#381707"/>
  <circle cx="738.0" cy="515.2" r="1.8" fill="#381707"/>
  <circle cx="802.4" cy="515.2" r="2.1" fill="#381707"/>
  <circle cx="855.1" cy="516.4" r="3.0" fill="#381707"/>
  <circle cx="838.3" cy="520.9" r="2.1" fill="#381707"/>
  <circle cx="777.8" cy="522.7" r="3.0" fill="#381707"/>
  <circle cx="867.3" cy="527.8" r="2.1" fill="#381707"/>
  <circle cx="764.0" cy="533.8" r="4.2" fill="#381707"/>
  <circle cx="740.1" cy="539.8" r="3.0" fill="#381707"/>
  <circle cx="728.4" cy="549.7" r="2.1" fill="#381707"/>
  <circle cx="872.4" cy="545.8" r="3.0" fill="#381707"/>
  <circle cx="856.0" cy="547.9" r="2.1" fill="#381707"/>
  <circle cx="730.5" cy="574.2" r="2.1" fill="#381707"/>
  <circle cx="749.4" cy="572.1" r="3.0" fill="#381707"/>
  <circle cx="816.7" cy="568.8" r="2.1" fill="#381707"/>
  <circle cx="833.8" cy="572.1" r="1.8" fill="#381707"/>
  <circle cx="905.4" cy="578.7" r="3.0" fill="#381707"/>
  <circle cx="794.0" cy="580.8" r="6.3" fill="#381707"/>
  <circle cx="851.8" cy="582.3" r="2.1" fill="#381707"/>
  <circle cx="745.5" cy="584.1" r="2.1" fill="#381707"/>
  <circle cx="830.2" cy="590.7" r="2.1" fill="#381707"/>
  <circle cx="757.4" cy="597.0" r="3.0" fill="#381707"/>
  <circle cx="901.8" cy="610.5" r="3.0" fill="#381707"/>
  <circle cx="779.3" cy="611.7" r="2.1" fill="#381707"/>
  <circle cx="761.3" cy="611.7" r="3.0" fill="#381707"/>
  <circle cx="756.5" cy="613.2" r="1.8" fill="#381707"/>
  <circle cx="858.7" cy="618.6" r="3.0" fill="#381707"/>
  <circle cx="807.2" cy="633.5" r="3.0" fill="#381707"/>
  <circle cx="841.3" cy="636.8" r="3.0" fill="#381707"/>
</g>

<!-- LABELS -->
<g id="labels" font-size="28.6" stroke="#111" stroke-width="0.25">
  <text x="122" y="691" textLength="145" lengthAdjust="spacingAndGlyphs">Normal cell</text>
  <text x="399.5" y="691" textLength="203" lengthAdjust="spacingAndGlyphs">Cell attacked by</text>
  <text x="400" y="728.3" textLength="153" lengthAdjust="spacingAndGlyphs">free radicals</text>
  <text x="708" y="691" textLength="235" lengthAdjust="spacingAndGlyphs">Cell with oxidative</text>
  <text x="709" y="728.3" textLength="71.5" lengthAdjust="spacingAndGlyphs">stress</text>
</g>
</svg>
</body>
</html>
